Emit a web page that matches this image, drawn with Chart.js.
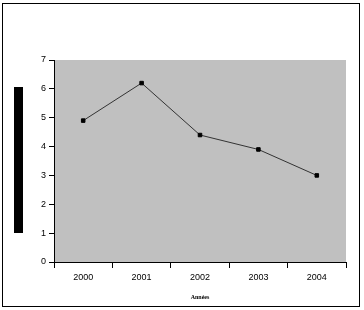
<!DOCTYPE html>
<html>
<head>
<meta charset="utf-8">
<script src="https://cdn.jsdelivr.net/npm/chart.js@4"></script>
<style>
  html, body { margin: 0; padding: 0; background: #fff; }
  #wrap { width: 364px; height: 310px; }
</style>
</head>
<body>
<div id="wrap"><canvas id="lineChart"></canvas></div>
<script>
// data
const years = ['2000', '2001', '2002', '2003', '2004']
const values = [4.9, 6.2, 4.4, 3.9, 3.0]
const yTicks = [0, 1, 2, 3, 4, 5, 6, 7]
const xTitle = 'Années'

// grey plot area, outer frame and the black y title block
const framePlugin = {
  id: 'frame',
  beforeDraw(chart) {
    const { ctx, chartArea: a } = chart
    ctx.save()
    ctx.fillStyle = '#c0c0c0'
    ctx.fillRect(a.left, a.top, a.right - a.left, a.bottom - a.top)
    ctx.restore()
  },
  afterDraw(chart) {
    const ctx = chart.ctx
    ctx.save()
    ctx.strokeStyle = '#000'
    ctx.lineWidth = 1
    ctx.strokeRect(2.5, 3.5, 357, 303)
    ctx.fillStyle = '#000'
    ctx.fillRect(14, 87, 9, 146)
    ctx.restore()
  }
}

const tickFont = { family: 'Arial, "Liberation Sans", sans-serif', size: 9 }

new Chart(document.getElementById('lineChart'), {
  type: 'line',
  data: {
    labels: years,
    datasets: [{
      data: values,
      borderColor: '#333',
      borderWidth: 1,
      pointStyle: 'rect',
      pointRadius: 2.5,
      pointBackgroundColor: '#000',
      pointBorderColor: '#000',
      tension: 0
    }]
  },
  options: {
    responsive: true,
    maintainAspectRatio: false,
    animation: false,
    layout: { padding: { top: 60, left: 0, right: 18, bottom: 0 } },
    plugins: { legend: { display: false }, tooltip: { enabled: false } },
    scales: {
      x: {
        offset: true,
        grid: { offset: true, drawOnChartArea: false, color: '#000', tickLength: 6 },
        border: { color: '#000', width: 1 },
        ticks: { color: '#000', font: tickFont, padding: 4, maxRotation: 0 },
        title: { display: true, text: xTitle, color: '#000', font: { family: 'Liberation Serif, serif', size: 6, weight: 'bold' }, padding: { top: 10, bottom: 9 } },
        afterFit(scale) { scale.height = 48 }
      },
      y: {
        min: 0,
        max: 7,
        grid: { drawOnChartArea: false, color: '#000', tickLength: 5 },
        border: { color: '#000', width: 1 },
        ticks: {
          color: '#000', font: tickFont, padding: 3,
          stepSize: 1,
          callback: (v) => yTicks.includes(v) ? String(v) : ''
        },
        afterFit(scale) { scale.width = 54 }
      }
    }
  },
  plugins: [framePlugin]
})
</script>
</body>
</html>
